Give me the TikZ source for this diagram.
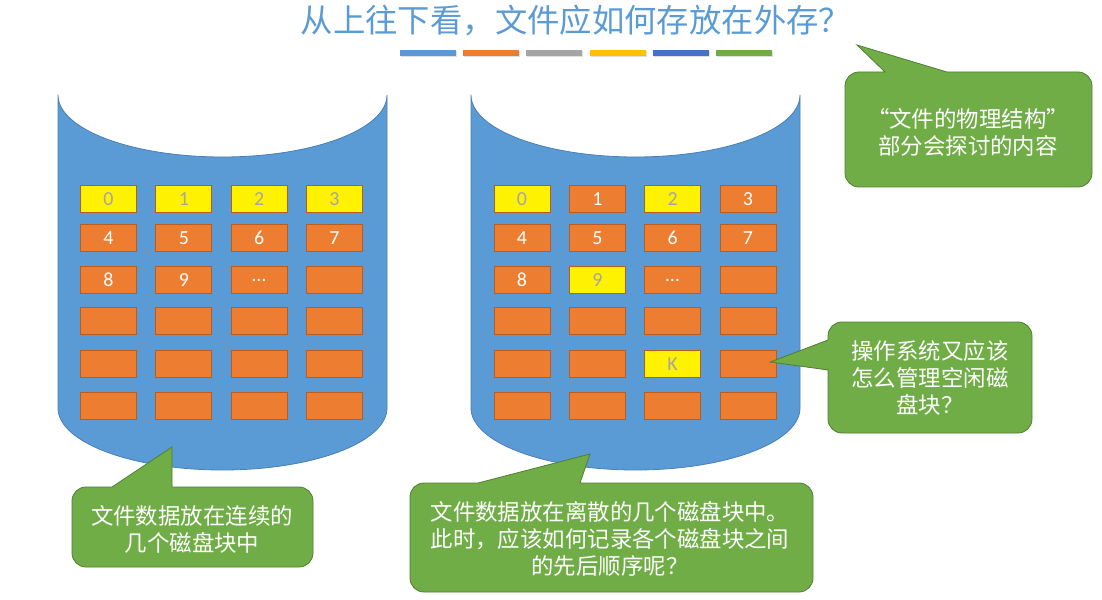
\documentclass[tikz,border=0pt]{standalone}
\usepackage{fontspec}
\setmainfont{Noto Sans CJK SC}
\newfontfamily\numfont{Carlito}
\usepackage{tikz}
\usetikzlibrary{positioning}

\definecolor{diskblue}{HTML}{5B9BD5}
\definecolor{diskline}{HTML}{4A7FB4}
\definecolor{blockorange}{HTML}{ED7D31}
\definecolor{blockline}{HTML}{B95C1E}
\definecolor{notegreen}{HTML}{70AD47}
\definecolor{noteline}{HTML}{507E32}
\definecolor{numgray}{HTML}{A5A5A5}
\definecolor{bargray}{HTML}{A5A5A5}
\definecolor{baryellow}{HTML}{FFC000}
\definecolor{bardarkblue}{HTML}{4472C4}

\begin{document}
\begin{tikzpicture}[x=1bp,y=-1bp,
    disk/.style={fill=diskblue, draw=diskline, line width=0.8bp},
    freeblk/.style={rectangle, fill=blockorange, draw=blockline, line width=0.8bp,
        minimum width=56bp, minimum height=27bp, inner sep=0pt,
        font=\numfont\fontsize{20}{20}\selectfont, text=white},
    usedblk/.style={freeblk, fill=yellow, text=numgray},
    note/.style={fill=notegreen, draw=noteline, line width=0.8bp},
    notetext/.style={align=center, text=white, font=\fontsize{22.5}{27}\selectfont}
    ]
    \useasboundingbox (0,0) rectangle (1102,600);
    \def\rowy{{199,238,280,321,364,406}}

    % title and the colour strip under it
    \node[text=diskblue, font=\fontsize{32.5}{38}\selectfont] (title) at (576,21) {从上往下看，文件应如何存放在外存？};
    \foreach \col[count=\i from 0] in {diskblue,blockorange,bargray,baryellow,bardarkblue,notegreen} {
        \fill[black!12] ({401+63.2*\i},51.5) rectangle ++(56,6);
        \fill[\col] ({400+63.2*\i},50) rectangle ++(56,6);
    }

    % the two disks
    \foreach \l in {58,471} {
        \draw[disk] (\l,95) -- (\l,408)
            arc[start angle=180, end angle=360, x radius=164.5bp, y radius=62bp]
            -- (\l+329,95)
            arc[start angle=0, end angle=-180, x radius=164.5bp, y radius=62bp]
            -- cycle;
    }

    % blocks of the first disk (contiguous)
    \foreach \c/\r/\t/\s in {0/0/0/usedblk,1/0/1/usedblk,2/0/2/usedblk,3/0/3/usedblk,
        0/1/4/freeblk,1/1/5/freeblk,2/1/6/freeblk,3/1/7/freeblk,
        0/2/8/freeblk,1/2/9/freeblk,2/2/…/freeblk,3/2//freeblk} {
        \node[\s] (A\r\c) at ({108.5+75.3*\c},{\rowy[\r]}) {\t};
    }
    \foreach \r in {3,4,5} {
        \foreach \c in {0,...,3} {
            \node[freeblk] (A\r\c) at ({108.5+75.3*\c},{\rowy[\r]}) {};
        }
    }

    % blocks of the second disk (scattered)
    \foreach \c/\r/\t/\s in {0/0/0/usedblk,1/0/1/freeblk,2/0/2/usedblk,3/0/3/freeblk,
        0/1/4/freeblk,1/1/5/freeblk,2/1/6/freeblk,3/1/7/freeblk,
        0/2/8/freeblk,1/2/9/usedblk,2/2/…/freeblk,3/2//freeblk,
        0/4//freeblk,1/4//freeblk,2/4/K/usedblk,3/4//freeblk} {
        \node[\s] (B\r\c) at ({522+75.3*\c},{\rowy[\r]}) {\t};
    }
    \foreach \r in {3,5} {
        \foreach \c in {0,...,3} {
            \node[freeblk] (B\r\c) at ({522+75.3*\c},{\rowy[\r]}) {};
        }
    }

    % callouts
    \coordinate (tip1) at (172,447);
    \draw[note] (tip1) -- (172,487) [rounded corners=14pt] -- (313,487) -- (313,567)
        -- (72,567) -- (72,487) [sharp corners] -- (112,487) -- cycle;
    \node[notetext] (note1) at (192,529) {文件数据放在连续的\\几个磁盘块中};

    \coordinate (tip2) at (590,454);
    \draw[note] (tip2) -- (580,483) [rounded corners=14pt] -- (813,483) -- (813,592)
        -- (410,592) -- (410,483) [sharp corners] -- (478,483) -- cycle;
    \node[notetext] (note2) at (610,539) {文件数据放在离散的几个磁盘块中。\\此时，应该如何记录各个磁盘块之间\\的先后顺序呢？};

    \coordinate (tip3) at (857,45);
    \draw[note] (tip3) -- (947,72) [rounded corners=14pt] -- (1092,72) -- (1092,187)
        -- (845,187) -- (845,72) [sharp corners] -- (885,72) -- cycle;
    \node[notetext] (note3) at (968,132) {“文件的物理结构”\\部分会探讨的内容};

    \coordinate (tip4) at ([xshift=-6bp,yshift=2bp]B43.east);
    \draw[note] (tip4) -- (828,340) [rounded corners=14pt] -- (828,322) -- (1032,322)
        -- (1032,433) -- (828,433) [sharp corners] -- (828,370) -- cycle;
    \node[notetext] (note4) at (930,378) {操作系统又应该\\怎么管理空闲磁\\盘块？};
\end{tikzpicture}
\end{document}
